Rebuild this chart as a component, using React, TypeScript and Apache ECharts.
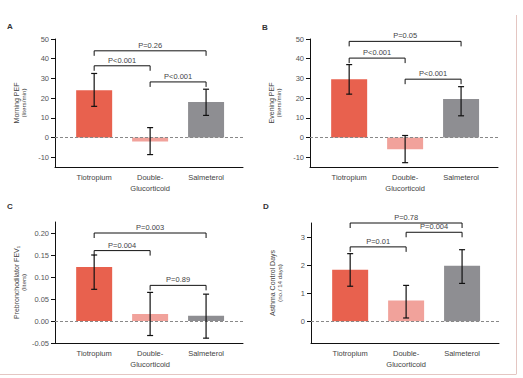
import React, { useEffect, useRef } from "react";
import * as echarts from "echarts";

const categories = ["Tiotropium", "Double-\nGlucorticoid", "Salmeterol"];
const barColors = ["#e8614e", "#f1a29b", "#8e8e92"];

// Panel A: Morning PEF
const morningMean = [24, -2, 18];
const morningLow = [15.8, -8.7, 11.2];
const morningHigh = [32.5, 5, 24.5];
const morningBrackets = [
  [0, 2, 44],
  [0, 1, 36.4],
  [1, 2, 28.2],
];
const morningP = ["P=0.26", "P<0.001", "P<0.001"];

// Panel B: Evening PEF
const eveningMean = [29.5, -6, 19.5];
const eveningLow = [22, -12.8, 11];
const eveningHigh = [37, 1, 25.8];
const eveningBrackets = [
  [0, 2, 48.8],
  [0, 1, 40.3],
  [1, 2, 29.6],
];
const eveningP = ["P=0.05", "P<0.001", "P<0.001"];

// Panel C: Prebronchodilator FEV1
const fevMean = [0.123, 0.016, 0.012];
const fevLow = [0.072, -0.033, -0.039];
const fevHigh = [0.15, 0.065, 0.061];
const fevBrackets = [
  [0, 2, 0.2],
  [0, 1, 0.16],
  [1, 2, 0.081],
];
const fevP = ["P=0.003", "P=0.004", "P=0.89"];

// Panel D: Asthma control days
const acdMean = [1.84, 0.74, 1.98];
const acdLow = [1.25, 0.12, 1.35];
const acdHigh = [2.41, 1.28, 2.55];
const acdBrackets = [
  [0, 2, 3.5],
  [1, 2, 3.17],
  [0, 1, 2.65],
];
const acdP = ["P=0.78", "P=0.004", "P=0.01"];

const pefTicks = [-10, 0, 10, 20, 30, 40, 50];
const fevTicks = [-0.05, 0, 0.05, 0.1, 0.15, 0.2];
const acdTicks = [0, 1, 2, 3];

const FONT = "'Liberation Sans', Arial, sans-serif";

export default function App() {
  const ref = useRef<HTMLDivElement>(null);

  useEffect(() => {
    if (!ref.current) return;
    const chart = echarts.init(ref.current, undefined, { renderer: "svg" });

    const panels = [
      {
        mean: morningMean, low: morningLow, high: morningHigh, br: morningBrackets, p: morningP,
        grid: { left: 55, top: 39, width: 188, height: 128 },
        min: -15, max: 50, ticks: pefTicks, fmt: (v: number) => String(v),
        name: "{a|Morning PEF}\n{b|(liters/min)}",
      },
      {
        mean: eveningMean, low: eveningLow, high: eveningHigh, br: eveningBrackets, p: eveningP,
        grid: { left: 310, top: 39, width: 188, height: 128 },
        min: -15, max: 50, ticks: pefTicks, fmt: (v: number) => String(v),
        name: "{a|Evening PEF}\n{b|(liters/min)}",
      },
      {
        mean: fevMean, low: fevLow, high: fevHigh, br: fevBrackets, p: fevP,
        grid: { left: 55, top: 222, width: 188, height: 121 },
        min: -0.05, max: 0.225, ticks: fevTicks, fmt: (v: number) => v.toFixed(2),
        name: "{a|Prebronchodilator FEV₁}\n{b|(liters)}",
      },
      {
        mean: acdMean, low: acdLow, high: acdHigh, br: acdBrackets, p: acdP,
        grid: { left: 311, top: 223, width: 188, height: 120 },
        min: -0.77, max: 3.5, ticks: acdTicks, fmt: (v: number) => String(v),
        name: "{a|Asthma Control Days}\n{b|(no./ 14 days)}",
      },
    ];

    const grids: any[] = [];
    const xAxes: any[] = [];
    const yAxes: any[] = [];
    const series: any[] = [];

    panels.forEach((pn, i) => {
      grids.push({ ...pn.grid, containLabel: false });
      xAxes.push({
        type: "value",
        gridIndex: i,
        min: -0.7,
        max: 2.66,
        axisLine: { show: true, onZero: false, lineStyle: { color: "#111", width: 1 } },
        axisTick: { show: false },
        splitLine: { show: false },
        axisLabel: {
          customValues: [0, 1, 2],
          formatter: (v: number) => categories[Math.round(v)],
          fontFamily: FONT,
          fontSize: 7.5,
          color: "#444",
          lineHeight: 11,
          margin: 5,
          verticalAlign: "top",
        },
      });
      yAxes.push({
        type: "value",
        gridIndex: i,
        min: pn.min,
        max: pn.max,
        axisLine: { show: true, onZero: false, lineStyle: { color: "#111", width: 1 } },
        axisTick: { show: true, customValues: pn.ticks, length: 4, lineStyle: { color: "#111" } },
        splitLine: { show: false },
        axisLabel: {
          customValues: pn.ticks,
          formatter: pn.fmt,
          fontFamily: FONT,
          fontSize: 7.5,
          color: "#555",
          margin: 6,
        },
        name: pn.name,
        nameLocation: "middle",
        nameRotate: 90,
        nameGap: 28,
        nameTextStyle: {
          fontFamily: FONT,
          rich: {
            a: { fontSize: 7, color: "#444", fontFamily: FONT, lineHeight: 7 },
            b: { fontSize: 6.2, color: "#444", fontFamily: FONT, lineHeight: 7 },
          },
        },
      });

      series.push({
        type: "bar",
        xAxisIndex: i,
        yAxisIndex: i,
        barWidth: 36,
        data: pn.mean.map((v, k) => ({ value: [k, v], itemStyle: { color: barColors[k] } })),
        markLine: {
          silent: true,
          symbol: ["none", "none"],
          label: { show: false },
          lineStyle: { type: [3, 2], color: "#888", width: 1 },
          data: [{ yAxis: 0 }],
        },
      });

      series.push({
        type: "custom",
        xAxisIndex: i,
        yAxisIndex: i,
        z: 5,
        data: pn.mean.map((_, k) => [k, pn.low[k], pn.high[k]]),
        renderItem: (params: any, api: any) => {
          const x = api.value(0);
          const lo = api.coord([x, api.value(1)]);
          const hi = api.coord([x, api.value(2)]);
          const cap = 3;
          const st = { stroke: "#111", lineWidth: 1.2 };
          return {
            type: "group",
            children: [
              { type: "line", shape: { x1: lo[0], y1: lo[1], x2: hi[0], y2: hi[1] }, style: st },
              { type: "line", shape: { x1: lo[0] - cap, y1: lo[1], x2: lo[0] + cap, y2: lo[1] }, style: st },
              { type: "line", shape: { x1: hi[0] - cap, y1: hi[1], x2: hi[0] + cap, y2: hi[1] }, style: st },
            ],
          };
        },
      });

      const labels = pn.p;
      series.push({
        type: "custom",
        xAxisIndex: i,
        yAxisIndex: i,
        z: 6,
        clip: false,
        data: pn.br,
        renderItem: (params: any, api: any) => {
          const y = api.value(2);
          const p1 = api.coord([api.value(0), y]);
          const p2 = api.coord([api.value(1), y]);
          const leg = 5;
          return {
            type: "group",
            children: [
              {
                type: "polyline",
                shape: {
                  points: [
                    [p1[0], p1[1] + leg],
                    [p1[0], p1[1]],
                    [p2[0], p2[1]],
                    [p2[0], p2[1] + leg],
                  ],
                },
                style: { stroke: "#111", lineWidth: 1, fill: "none" },
              },
              {
                type: "text",
                x: (p1[0] + p2[0]) / 2,
                y: p1[1] - 1.5,
                style: {
                  text: labels[params.dataIndex],
                  fontFamily: FONT,
                  fontSize: 7.5,
                  fill: "#444",
                  align: "center",
                  verticalAlign: "bottom",
                },
              },
            ],
          };
        },
      });
    });

    const letterStyle = { fontFamily: FONT, fontSize: 8, fontWeight: "bold", fill: "#333" };
    chart.setOption({
      animation: false,
      backgroundColor: "#ffffff",
      grid: grids,
      xAxis: xAxes,
      yAxis: yAxes,
      series,
      graphic: [
        { type: "text", left: 7, top: 22, style: { ...letterStyle, text: "A" } },
        { type: "text", left: 262, top: 23, style: { ...letterStyle, text: "B" } },
        { type: "text", left: 7, top: 202, style: { ...letterStyle, text: "C" } },
        { type: "text", left: 263, top: 202, style: { ...letterStyle, text: "D" } },
        { type: "line", shape: { x1: 516.5, y1: 15, x2: 516.5, y2: 374 }, style: { stroke: "#e4c6c2", lineWidth: 1 } },
        { type: "line", shape: { x1: 0, y1: 374.5, x2: 516.5, y2: 374.5 }, style: { stroke: "#e4c6c2", lineWidth: 1 } },
      ],
    });

    return () => chart.dispose();
  }, []);

  return (
    <div
      ref={ref}
      style={{ position: "fixed", left: 0, top: 0, width: 523, height: 378 }}
    />
  );
}
